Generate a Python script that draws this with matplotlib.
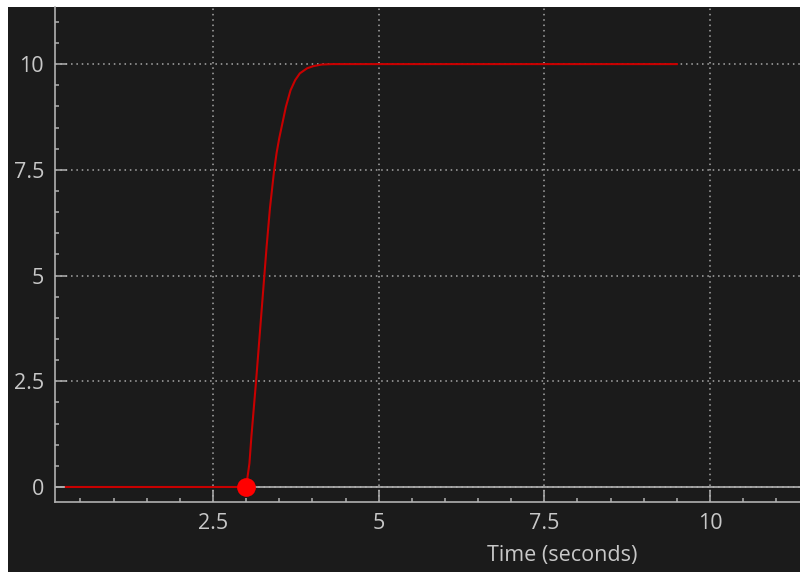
import matplotlib.pyplot as plt
from matplotlib.patches import Rectangle
from matplotlib.ticker import MultipleLocator

# step response trace (seconds, output)
time_s = [0.28, 3.00, 3.05, 3.08, 3.15, 3.21, 3.27, 3.31, 3.36, 3.42, 3.46,
          3.50, 3.55, 3.60, 3.67, 3.74, 3.81, 3.92, 4.01, 4.14, 4.30, 9.50]
output = [0.0, 0.0, 0.56, 1.2, 2.5, 3.7, 4.9, 5.7, 6.6, 7.45, 7.9,
          8.25, 8.62, 8.99, 9.38, 9.62, 9.78, 9.90, 9.95, 9.99, 10.0, 10.0]

# current-time cursor
cursor_t = 3.0
cursor_v = 0.0

x_ticks = [2.5, 5, 7.5, 10]
x_labels = ['2.5', '5', '7.5', '10']
y_ticks = [0, 2.5, 5, 7.5, 10]
y_labels = ['0', '2.5', '5', '7.5', '10']

BG = '#1b1b1b'
AXIS = '#b0b0b0'
TEXT = '#c8c8c8'
GRID = '#a8a8a8'

plt.rcParams['font.family'] = ['Open Sans', 'DejaVu Sans']

fig = plt.figure(figsize=(8, 5.72), dpi=100, facecolor='white')
W, H = 800, 572
fig.patches.append(Rectangle((8 / W, 0), 1 - 8 / W, 1 - 7 / H,
                             transform=fig.transFigure, facecolor=BG,
                             edgecolor='none', zorder=-10))

ax = fig.add_axes([55 / W, 70 / H, 745 / W, 495 / H])
ax.set_facecolor(BG)

ax.set_xlim(0.116, 11.358)
ax.set_ylim(-0.355, 11.35)

ax.grid(True, which='major', color=GRID, lw=1.1, ls=(0, (1, 2.5)))
ax.axhline(0, color=AXIS, lw=1.2, zorder=2)

ax.plot(time_s, output, color='#c80000', lw=1.5, zorder=3,
        solid_joinstyle='round')
ax.plot([cursor_t], [cursor_v], 'o', color='#ff0000', ms=13.5, mec='none',
        zorder=4)

for side in ('top', 'right'):
    ax.spines[side].set_visible(False)
for side in ('left', 'bottom'):
    ax.spines[side].set_color(AXIS)
    ax.spines[side].set_linewidth(1.2)

ax.set_xticks(x_ticks, x_labels)
ax.set_yticks(y_ticks, y_labels)
ax.xaxis.set_minor_locator(MultipleLocator(0.5))
ax.yaxis.set_minor_locator(MultipleLocator(0.5))
ax.tick_params(which='both', direction='in', color=AXIS, width=1.1,
               labelcolor=TEXT, labelsize=15.5)
ax.tick_params(which='major', length=8.5)
ax.tick_params(which='minor', length=3)
ax.tick_params(axis='x', pad=8)
ax.tick_params(axis='y', pad=8)

ax.set_xlabel('Time (seconds)', color=TEXT, fontsize=15.5)
ax.xaxis.set_label_coords(0.6805, -0.086)

fig.savefig('out.png', dpi=100, facecolor=fig.get_facecolor())
